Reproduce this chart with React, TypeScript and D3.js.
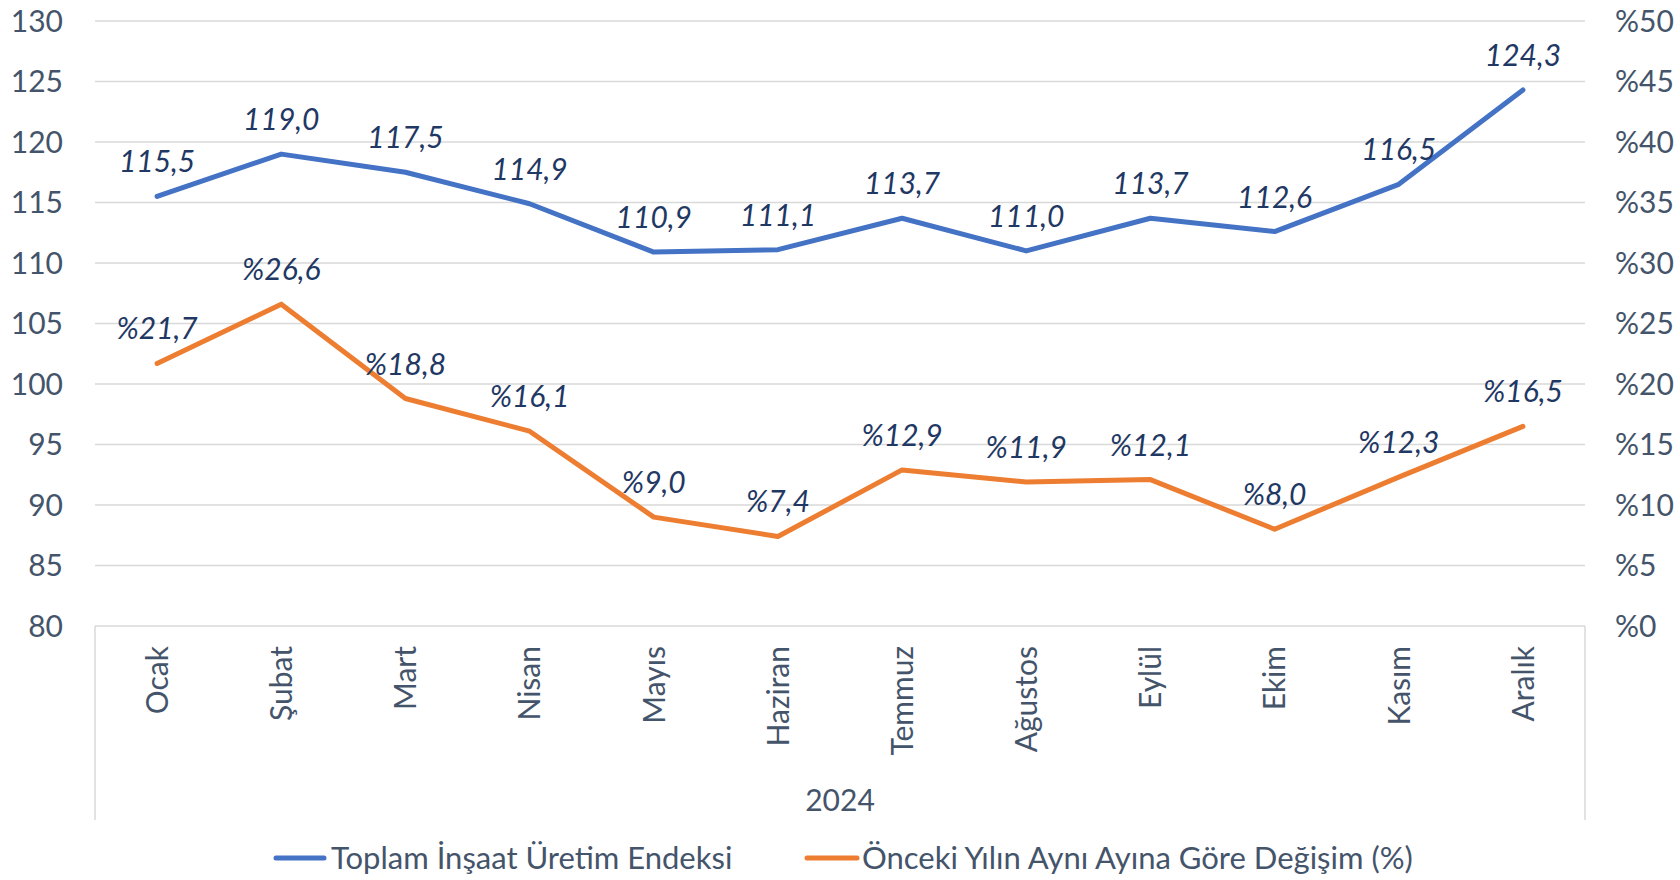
import React from "react";
import * as d3 from "d3";

const months = ["Ocak", "Şubat", "Mart", "Nisan", "Mayıs", "Haziran", "Temmuz", "Ağustos", "Eylül", "Ekim", "Kasım", "Aralık"];
const indexValues = [115.5, 119.0, 117.5, 114.9, 110.9, 111.1, 113.7, 111.0, 113.7, 112.6, 116.5, 124.3];
const changeValues = [21.7, 26.6, 18.8, 16.1, 9.0, 7.4, 12.9, 11.9, 12.1, 8.0, 12.3, 16.5];
const leftTicks = [80, 85, 90, 95, 100, 105, 110, 115, 120, 125, 130];
const rightTicks = [0, 5, 10, 15, 20, 25, 30, 35, 40, 45, 50];
const yearLabel = "2024";
const seriesNames = ["Toplam İnşaat Üretim Endeksi", "Önceki Yılın Aynı Ayına Göre Değişim (%)"];

const W = 1680, H = 880;
const L = 95, R = 1585, T = 21, B = 626;
const FONT = "Lato, 'Open Sans', sans-serif";
const TXT = "#44546A";
const LBL = "#1F3864";
const BLUE = "#4472C4";
const ORANGE = "#ED7D31";
const fmt = (v: number) => v.toFixed(1).replace(".", ",");

export default function App() {
  const x = d3.scaleBand<string>().domain(months).range([L, R]);
  const cx = (m: string) => (x(m) as number) + x.bandwidth() / 2;
  const yL = d3.scaleLinear().domain([80, 130]).range([B, T]);
  const yR = d3.scaleLinear().domain([0, 50]).range([B, T]);
  const lineL = d3.line<number>().x((_, i) => cx(months[i])).y((d) => yL(d));
  const lineR = d3.line<number>().x((_, i) => cx(months[i])).y((d) => yR(d));

  return (
    <svg width={W} height={H} style={{ position: "absolute", left: 0, top: 0, background: "#fff" }} fontFamily={FONT}>
      {leftTicks.map((t) => (
        <line key={"g" + t} x1={L} x2={R} y1={yL(t)} y2={yL(t)} stroke="#D9D9D9" strokeWidth={1.5} />
      ))}
      {leftTicks.map((t) => (
        <text key={"l" + t} x={63} y={yL(t)} dy="0.36em" textAnchor="end" fontSize={30} fill={TXT}>{t}</text>
      ))}
      {rightTicks.map((t) => (
        <text key={"r" + t} x={1615} y={yR(t)} dy="0.36em" textAnchor="start" fontSize={30} fill={TXT}>%{t}</text>
      ))}
      <line x1={L} x2={L} y1={B} y2={820} stroke="#D9D9D9" strokeWidth={1.5} />
      <line x1={R} x2={R} y1={B} y2={820} stroke="#D9D9D9" strokeWidth={1.5} />
      {months.map((m) => (
        <text key={"m" + m} transform={`translate(${cx(m)},646) rotate(-90)`} dy="0.36em" textAnchor="end" fontSize={30} fill={TXT}>{m}</text>
      ))}
      <text x={(L + R) / 2} y={800} dy="0.36em" textAnchor="middle" fontSize={30} fill={TXT}>{yearLabel}</text>
      <path d={lineL(indexValues) || ""} fill="none" stroke={BLUE} strokeWidth={5} strokeLinejoin="round" strokeLinecap="round" />
      <path d={lineR(changeValues) || ""} fill="none" stroke={ORANGE} strokeWidth={5} strokeLinejoin="round" strokeLinecap="round" />
      {indexValues.map((v, i) => (
        <text key={"a" + i} x={cx(months[i])} y={yL(v) - 24} textAnchor="middle" fontSize={30} fontStyle="italic" fill={LBL}>{fmt(v)}</text>
      ))}
      {changeValues.map((v, i) => (
        <text key={"b" + i} x={cx(months[i])} y={yR(v) - 24} textAnchor="middle" fontSize={30} fontStyle="italic" fill={LBL}>%{fmt(v)}</text>
      ))}
      <line x1={276} x2={324} y1={858} y2={858} stroke={BLUE} strokeWidth={5} strokeLinecap="round" />
      <text x={331} y={858} dy="0.36em" fontSize={31} fill={TXT}>{seriesNames[0]}</text>
      <line x1={807} x2={857} y1={858} y2={858} stroke={ORANGE} strokeWidth={5} strokeLinecap="round" />
      <text x={862} y={858} dy="0.36em" fontSize={31} fill={TXT}>{seriesNames[1]}</text>
    </svg>
  );
}
